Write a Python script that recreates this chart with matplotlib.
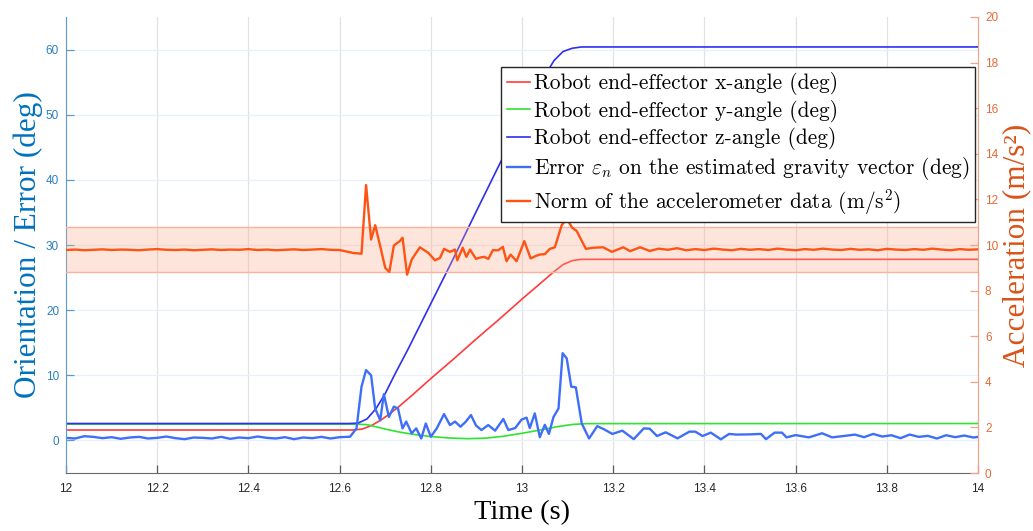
"""Robot end-effector orientation, gravity-vector error and accelerometer norm
over a 2 s window (yyaxis-style figure, left: deg, right: m/s^2)."""

import matplotlib
matplotlib.use("Agg")
import matplotlib.pyplot as plt
from matplotlib.ticker import FixedLocator, FormatStrFormatter

# ---------------------------------------------------------------- data
# robot end-effector angles (deg)
x_angle_t = [12.00, 12.63, 12.65, 12.67, 12.69, 12.71, 12.73, 12.76, 12.80,
             12.85, 12.90, 12.95, 13.00, 13.04, 13.07, 13.09, 13.11, 13.13,
             14.00]
x_angle_v = [1.6, 1.6, 1.75, 2.3, 3.1, 4.1, 5.2, 7.0, 9.5,
             12.5, 15.6, 18.6, 21.7, 24.1, 25.9, 27.0, 27.6, 27.8,
             27.8]

y_angle_t = [12.00, 12.64, 12.66, 12.68, 12.70, 12.73, 12.76, 12.80, 12.84,
             12.88, 12.92, 12.96, 13.00, 13.04, 13.08, 13.11, 13.14, 14.00]
y_angle_v = [2.5, 2.5, 2.42, 2.1, 1.75, 1.3, 0.95, 0.6, 0.38,
             0.27, 0.35, 0.65, 1.1, 1.6, 2.15, 2.45, 2.58, 2.6]

z_angle_t = [12.00, 12.62, 12.64, 12.66, 12.68, 12.70, 12.72, 12.75, 12.80,
             12.85, 12.90, 12.95, 13.00, 13.04, 13.07, 13.09, 13.11, 13.13,
             14.00]
z_angle_v = [2.6, 2.6, 2.65, 3.3, 4.9, 7.2, 10.0, 14.0, 21.0,
             28.0, 35.2, 42.3, 49.4, 54.8, 58.3, 59.7, 60.2, 60.4,
             60.4]

# error on the estimated gravity vector (deg)
err_t = [12.00, 12.02, 12.04, 12.06, 12.08, 12.10, 12.12, 12.14, 12.16, 12.18,
         12.20, 12.22, 12.24, 12.26, 12.28, 12.30, 12.32, 12.34, 12.36, 12.38,
         12.40, 12.42, 12.44, 12.46, 12.48, 12.50, 12.52, 12.54, 12.56, 12.58,
         12.60, 12.623, 12.637, 12.648, 12.658, 12.669, 12.678, 12.689, 12.697,
         12.708, 12.719, 12.728, 12.738, 12.746, 12.758, 12.768, 12.779, 12.789,
         12.800, 12.813, 12.829, 12.842, 12.853, 12.865, 12.877, 12.888, 12.899,
         12.911, 12.926, 12.941, 12.959, 12.970, 12.985, 12.999, 13.010, 13.017,
         13.028, 13.039, 13.050, 13.059, 13.069, 13.080, 13.089, 13.098, 13.108,
         13.118, 13.131, 13.147, 13.165, 13.180, 13.198, 13.220, 13.245, 13.267,
         13.280, 13.296, 13.315, 13.341, 13.367, 13.380, 13.396, 13.414, 13.436,
         13.454, 13.470, 13.498, 13.524, 13.535, 13.554, 13.570, 13.580, 13.600,
         13.629, 13.658, 13.680, 13.710, 13.73, 13.75, 13.77, 13.79, 13.81,
         13.83, 13.85, 13.87, 13.89, 13.91, 13.93, 13.95, 13.97, 13.99, 14.00]
err_v = [0.40, 0.30, 0.65, 0.55, 0.35, 0.50, 0.25, 0.45, 0.55, 0.30,
         0.40, 0.60, 0.35, 0.20, 0.45, 0.40, 0.30, 0.55, 0.25, 0.45,
         0.35, 0.60, 0.40, 0.30, 0.50, 0.20, 0.45, 0.35, 0.55, 0.30,
         0.50, 0.57, 1.85, 8.25, 10.8, 10.0, 4.9, 3.1, 7.1,
         3.6, 5.2, 4.9, 1.85, 2.9, 1.1, 1.85, 0.3, 2.6,
         0.57, 1.85, 4.05, 2.36, 2.9, 2.1, 2.9, 3.9, 2.3,
         1.6, 2.36, 1.5, 3.3, 1.6, 1.9, 3.2, 3.5, 1.9,
         4.15, 0.5, 2.4, 1.0, 3.6, 4.9, 13.4, 12.6, 8.25,
         8.15, 2.6, 0.3, 2.2, 1.7, 1.0, 1.5, 0.2, 1.85,
         1.8, 0.68, 1.25, 0.32, 1.35, 1.35, 0.68, 1.2, 0.17,
         1.0, 0.9, 0.93, 1.0, 0.2, 1.2, 1.2, 0.47, 0.82,
         0.47, 1.1, 0.47, 0.72, 0.9, 0.5, 1.0, 0.6, 0.8,
         0.35, 0.9, 0.55, 0.7, 0.3, 0.8, 0.5, 0.75, 0.45, 0.55]

# norm of the accelerometer data (m/s^2)
acc_t = [12.00, 12.02, 12.04, 12.06, 12.08, 12.10, 12.12, 12.14, 12.16, 12.18,
         12.20, 12.22, 12.24, 12.26, 12.28, 12.30, 12.32, 12.34, 12.36, 12.38,
         12.40, 12.42, 12.44, 12.46, 12.48, 12.50, 12.52, 12.54, 12.56, 12.58,
         12.60, 12.630, 12.648, 12.658, 12.669, 12.678, 12.689, 12.700, 12.709,
         12.719, 12.732, 12.738, 12.748, 12.758, 12.776, 12.795, 12.809, 12.820,
         12.829, 12.842, 12.853, 12.858, 12.870, 12.878, 12.886, 12.899, 12.908,
         12.917, 12.926, 12.936, 12.948, 12.958, 12.966, 12.975, 12.988, 13.005,
         13.019, 13.030, 13.039, 13.050, 13.061, 13.072, 13.087, 13.098, 13.110,
         13.120, 13.140, 13.156, 13.178, 13.197, 13.222, 13.237, 13.259, 13.28,
         13.30, 13.32, 13.34, 13.36, 13.38, 13.40, 13.42, 13.44, 13.46, 13.48,
         13.50, 13.52, 13.54, 13.56, 13.58, 13.60, 13.62, 13.64, 13.66, 13.68,
         13.70, 13.72, 13.74, 13.76, 13.78, 13.80, 13.82, 13.84, 13.86, 13.88,
         13.90, 13.92, 13.94, 13.96, 13.98, 14.00]
acc_v = [9.78, 9.80, 9.77, 9.79, 9.81, 9.78, 9.80, 9.79, 9.77, 9.80,
         9.82, 9.79, 9.78, 9.80, 9.77, 9.79, 9.81, 9.78, 9.80, 9.79,
         9.82, 9.78, 9.80, 9.77, 9.79, 9.81, 9.78, 9.80, 9.82, 9.79,
         9.78, 9.65, 9.62, 12.63, 10.24, 10.87, 9.95, 9.0, 8.82,
         9.98, 10.17, 10.32, 8.70, 9.36, 9.90, 9.65, 9.33, 9.43,
         9.83, 9.70, 9.80, 9.33, 9.88, 9.48, 9.80, 9.39, 9.45,
         9.48, 9.39, 9.77, 9.77, 9.92, 9.29, 9.58, 9.29, 10.17,
         9.41, 9.52, 9.58, 9.60, 9.83, 9.90, 10.87, 11.15, 10.76,
         10.61, 9.83, 9.88, 9.90, 9.70, 9.90, 9.73, 9.90, 9.74,
         9.84, 9.79, 9.86, 9.77, 9.82, 9.78, 9.84, 9.80, 9.77, 9.83,
         9.79, 9.82, 9.78, 9.84, 9.80, 9.77, 9.82, 9.79, 9.84, 9.80,
         9.78, 9.83, 9.79, 9.81, 9.77, 9.83, 9.80, 9.78, 9.82, 9.79,
         9.84, 9.80, 9.77, 9.82, 9.79, 9.81]

# tolerance band around g (m/s^2)
band_low = 8.81
band_high = 10.81

x_ticks = [12, 12.2, 12.4, 12.6, 12.8, 13, 13.2, 13.4, 13.6, 13.8, 14]
left_ticks = [0, 10, 20, 30, 40, 50, 60]
right_ticks = [0, 2, 4, 6, 8, 10, 12, 14, 16, 18, 20]

LABELS = [
    "Robot end-effector x-angle (deg)",
    "Robot end-effector y-angle (deg)",
    "Robot end-effector z-angle (deg)",
    r"Error $\varepsilon_n$ on the estimated gravity vector (deg)",
    r"Norm of the accelerometer data (m/s$^2$)",
]

# ---------------------------------------------------------------- style
C_X = "#ff3b3b"
C_Y = "#2fe32f"
C_Z = "#2f2ff0"
C_ERR = "#3f6ff8"
C_ACC = "#ff5314"
C_LEFT = "#0072bd"
C_RIGHT = "#d95319"
TICK_FONT = "Liberation Sans"
LABEL_FONT = "Liberation Serif"

plt.rcParams["mathtext.fontset"] = "cm"

fig = plt.figure(figsize=(10.33, 5.31), dpi=100)
ax = fig.add_axes([0.0639, 0.1092, 0.8829, 0.8588])
ax2 = ax.twinx()

h_x, = ax.plot(x_angle_t, x_angle_v, color=C_X, lw=1.2)
h_y, = ax.plot(y_angle_t, y_angle_v, color=C_Y, lw=1.2)
h_z, = ax.plot(z_angle_t, z_angle_v, color=C_Z, lw=1.2)
h_e, = ax.plot(err_t, err_v, color=C_ERR, lw=1.7)

ax2.axhspan(band_low, band_high, facecolor="#f9a98a", alpha=0.3,
            edgecolor="none", zorder=1)
for lvl in (band_low, band_high):
    ax2.axhline(lvl, color="#fbb29a", lw=1.0, zorder=1)
h_a, = ax2.plot(acc_t, acc_v, color=C_ACC, lw=1.7, zorder=3)

ax.set_xlim(12, 14)
ax.set_ylim(-5, 65)
ax2.set_ylim(0, 20)

ax.xaxis.set_major_locator(FixedLocator(x_ticks))
ax.xaxis.set_major_formatter(FormatStrFormatter("%g"))
ax.yaxis.set_major_locator(FixedLocator(left_ticks))
ax2.yaxis.set_major_locator(FixedLocator(right_ticks))

ax.grid(True, axis="x", color="#e2e2e2", lw=0.9)
ax.grid(True, axis="y", color="#e9f0f8", lw=0.9)
ax.set_axisbelow(True)

for a in (ax, ax2):
    a.spines["top"].set_visible(False)
ax.spines["right"].set_visible(False)
ax.spines["left"].set_color("#5d9bcf")
ax.spines["bottom"].set_color("#6a6a6a")
ax2.spines["left"].set_visible(False)
ax2.spines["bottom"].set_visible(False)
ax2.spines["right"].set_color("#f2a282")

ax.tick_params(axis="x", direction="in", length=6, width=0.9,
               colors="#5a5a5a", labelcolor="#262626", pad=7,
               labelsize=8.5)
ax.tick_params(axis="y", direction="in", length=6, width=0.9,
               colors="#5d9bcf", labelcolor="#2a7fc0", pad=5, labelsize=8.5)
ax2.tick_params(axis="y", direction="in", length=6, width=0.9,
                colors="#f2a282", labelcolor="#e66a35", pad=5, labelsize=8.5)
for lab in ax.get_xticklabels() + ax.get_yticklabels() + ax2.get_yticklabels():
    lab.set_fontfamily(TICK_FONT)

ax.set_xlabel("Time (s)", fontsize=20.5, family=LABEL_FONT, color="black",
              labelpad=4)
ax.set_ylabel("Orientation / Error (deg)", fontsize=22.5, family=LABEL_FONT,
              color=C_LEFT, labelpad=2)
ax2.set_ylabel("Acceleration (m/s²)", fontsize=22.5, family=LABEL_FONT,
               color=C_RIGHT, labelpad=3)

leg = ax2.legend([h_x, h_y, h_z, h_e, h_a], LABELS,
                 loc="upper right", bbox_to_anchor=(0.997, 0.891),
                 prop={"family": "cmr10", "size": 15.4},
                 frameon=True, fancybox=False, framealpha=1.0,
                 edgecolor="#262626", handlelength=1.1, handletextpad=0.2,
                 labelspacing=0.22, borderpad=0.25, borderaxespad=0.0)
leg.get_frame().set_linewidth(1.0)
leg.set_zorder(10)

fig.savefig("out.png", dpi=100)
